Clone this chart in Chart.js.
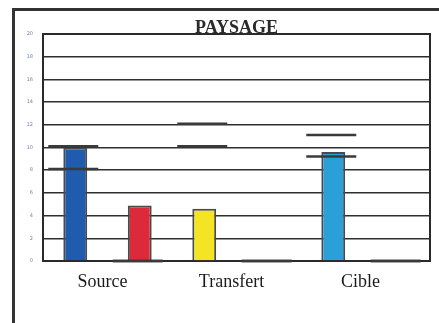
<!DOCTYPE html>
<html>
<head>
<meta charset="utf-8">
<script src="https://cdn.jsdelivr.net/npm/chart.js@4/dist/chart.umd.min.js"></script>
<style>
  html, body { margin: 0; padding: 0; background: #fff; }
  #wrap { position: relative; width: 439px; height: 323px; overflow: hidden; }
  #frame { position: absolute; left: 12px; top: 8px; width: 600px; height: 600px;
           border-top: 3px solid #333; border-left: 3px solid #333; pointer-events: none; }
  canvas { position: absolute; left: 0; top: 0; }
</style>
</head>
<body>
<div id="wrap">
  <canvas id="c" width="439" height="323"></canvas>
  <div id="frame"></div>
</div>
<script>
// Categories and measured values
const categories = ['Source', 'Transfert', 'Cible'];
const firstValues = [10.0, 4.6, 9.6];
const firstColors = ['#1f5cb0', '#f3e424', '#2b9fd8'];
const secondValues = [4.9, 0, 0];
const secondColors = ['#dc2a3a', '#dc2a3a', '#dc2a3a'];
// Upper and lower range marks for each bar
const firstHigh = [10.1, 12.1, 11.1];
const firstLow = [8.1, 10.1, 9.2];
const secondHigh = [0, 0, 0];
const secondLow = [0, 0, 0];
const yTicks = [0, 2, 4, 6, 8, 10, 12, 14, 16, 18, 20];
const chartTitle = 'PAYSAGE';

const rangeMarks = {
  id: 'rangeMarks',
  beforeDatasetsDraw(chart) {
    const { ctx, chartArea: a } = chart;
    ctx.save();
    ctx.strokeStyle = '#2a2a2a';
    ctx.lineWidth = 2;
    ctx.strokeRect(a.left, a.top, a.right - a.left, a.bottom - a.top);
    ctx.restore();
  },
  afterDatasetsDraw(chart) {
    const ctx = chart.ctx, y = chart.scales.y, a = chart.chartArea;
    ctx.save();
    ctx.strokeStyle = '#3a3a3a';
    ctx.lineWidth = 2.5;
    [[firstHigh, firstLow], [secondHigh, secondLow]].forEach((pair, di) => {
      chart.getDatasetMeta(di).data.forEach((bar, i) => {
        pair.forEach(arr => {
          const py = y.getPixelForValue(arr[i]);
          ctx.beginPath();
          ctx.moveTo(bar.x - 27, py);
          ctx.lineTo(bar.x + 23, py);
          ctx.stroke();
        });
      });
    });
    // title sitting on the top edge of the plot, centred over it
    ctx.fillStyle = '#2a2a2a';
    ctx.font = 'bold 18px "Liberation Serif"';
    ctx.textAlign = 'center';
    ctx.textBaseline = 'alphabetic';
    ctx.fillText(chartTitle, (a.left + a.right) / 2, a.top - 1);
    ctx.restore();
  }
};

new Chart(document.getElementById('c'), {
  type: 'bar',
  data: {
    labels: categories,
    datasets: [
      { data: firstValues, backgroundColor: firstColors, borderColor: '#4a4a4a', borderWidth: 2,
        categoryPercentage: 1.0, barPercentage: 0.37 },
      { data: secondValues, backgroundColor: secondColors, borderColor: '#4a4a4a', borderWidth: 2,
        categoryPercentage: 1.0, barPercentage: 0.37 }
    ]
  },
  options: {
    responsive: false,
    animation: false,
    layout: { padding: { left: 14, right: 9, top: 34, bottom: 0 } },
    plugins: {
      legend: { display: false },
      tooltip: { enabled: false },
      title: { display: false }
    },
    scales: {
      x: {
        grid: { display: false },
        border: { display: false },
        ticks: { color: '#1a1a1a', font: { family: 'Liberation Serif', size: 18 }, padding: 2, labelOffset: -5 },
        afterFit: s => { s.height = 62; }
      },
      y: {
        min: 0, max: 20,
        afterBuildTicks: s => { s.ticks = yTicks.map(v => ({ value: v })); },
        grid: { color: '#2e2e2e', lineWidth: 1.5, drawTicks: false },
        border: { display: false },
        ticks: { color: '#6f86a8', font: { family: 'DejaVu Sans', size: 5 }, padding: 10 },
        afterFit: s => { s.width = 29; }
      }
    }
  },
  plugins: [rangeMarks]
});
</script>
</body>
</html>
